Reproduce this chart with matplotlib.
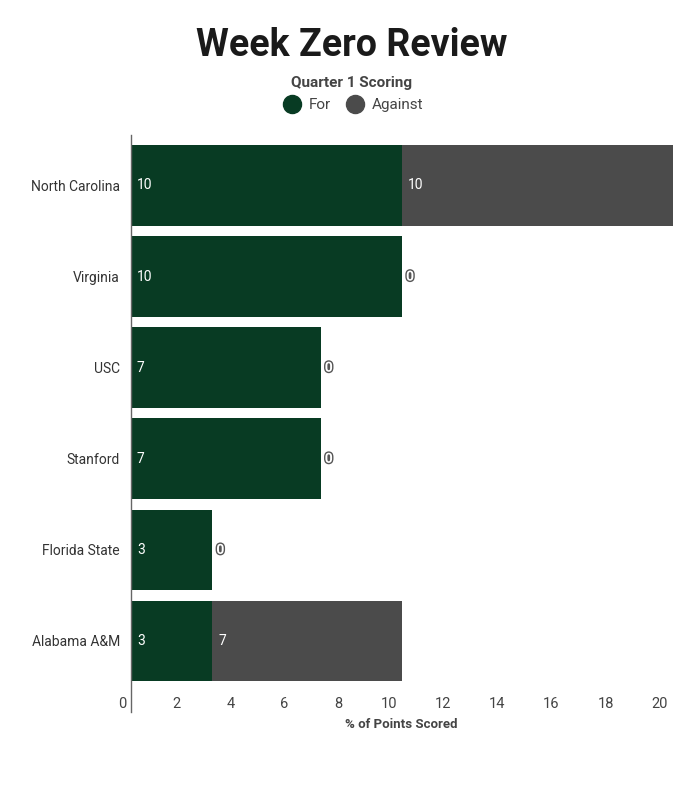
import matplotlib.pyplot as plt
from matplotlib.lines import Line2D
import matplotlib.patheffects as pe
import matplotlib.transforms as mtransforms

plt.rcParams['font.family'] = ['Roboto', 'DejaVu Sans']

teams = ['North Carolina', 'Virginia', 'USC', 'Stanford', 'Florida State', 'Alabama A&M']
pts_for = [10, 10, 7, 7, 3, 3]
pts_against = [10, 0, 0, 0, 0, 7]
ticks = [0, 2, 4, 6, 8, 10, 12, 14, 16, 18, 20]

c_for = '#083b23'
c_against = '#4b4b4b'

fig = plt.figure(figsize=(7, 8), dpi=100)
ax = fig.add_axes([131 / 700, 88 / 800, 542 / 700, 577 / 800])

y = list(range(len(teams)))
ax.barh(y, pts_for, height=0.885, color=c_for, label='For')
ax.barh(y, pts_against, left=pts_for, height=0.885, color=c_against, label='Against')

for i in y:
    ax.text(0.22, i, str(pts_for[i]), color='white', va='center', ha='left', fontsize=10)
    if pts_against[i] > 0:
        ax.text(pts_for[i] + 0.22, i, str(pts_against[i]), color='white',
                va='center', ha='left', fontsize=10)
    else:
        ax.text(pts_for[i] + 0.15, i, '0', color='white', va='center', ha='left',
                fontsize=10, fontweight='bold',
                path_effects=[pe.withStroke(linewidth=2, foreground='#555555')])

ax.set_xlim(0, 20)
ax.set_ylim(5.78, -0.554)
ax.tick_params(axis='y', length=0, pad=8)
ax.tick_params(axis='x', length=0, pad=-10.5)
ax.set_yticks(y)
ax.set_yticklabels(teams, fontsize=10, color='#333333')
ax.set_xticks(ticks)
ax.set_xticklabels([str(t) for t in ticks], fontsize=10.5, color='#444444', ha='right')
shift = mtransforms.ScaledTranslation(-5 / 100, 0, fig.dpi_scale_trans)
for lab in ax.get_xticklabels():
    lab.set_transform(lab.get_transform() + shift)
for s in ['top', 'right', 'bottom']:
    ax.spines[s].set_visible(False)
ax.spines['left'].set_color('#666666')
ax.spines['left'].set_linewidth(1)

fig.text(401 / 700, 1 - 724 / 800, '% of Points Scored', ha='center', va='center',
         fontsize=9.5, fontweight='bold', color='#444444')
fig.text(352 / 700, 1 - 45 / 800, 'Week Zero Review', ha='center', va='center',
         fontsize=27, fontweight='bold', color='#1a1a1a')
fig.text(352 / 700, 1 - 83 / 800, 'Quarter 1 Scoring', ha='center', va='center',
         fontsize=11, fontweight='bold', color='#444444')

handles = [Line2D([], [], marker='o', linestyle='', markersize=13, color=c_for),
           Line2D([], [], marker='o', linestyle='', markersize=13, color=c_against)]
leg = fig.legend(handles, ['For', 'Against'], loc='center', bbox_to_anchor=(353 / 700, 1 - 105 / 800),
                 ncol=2, frameon=False, fontsize=11, handletextpad=0.5, columnspacing=1.0,
                 handlelength=1.2)
for t in leg.get_texts():
    t.set_color('#444444')

fig.savefig('out.png', dpi=100)
